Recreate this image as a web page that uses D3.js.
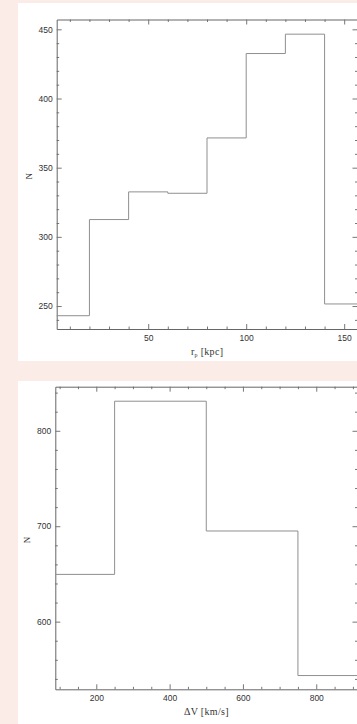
<!DOCTYPE html>
<html>
<head>
<meta charset="utf-8">
<script src="https://cdn.jsdelivr.net/npm/d3@7"></script>
<style>
  body { margin: 0; background: #fbece8; }
  svg { display: block; }
</style>
</head>
<body>
<svg id="chart" width="357" height="724"></svg>
<script>
// 上图: r_p 直方图
const rpEdges = [0, 20, 40, 60, 80, 100, 120, 140, 160];
const rpCounts = [243, 312.5, 332.5, 331.5, 371.5, 432.5, 446.5, 251.5];
const rpMajor = [50, 100, 150];
const rpYMajor = [250, 300, 350, 400, 450];

// 下图: ΔV 直方图
const dvEdges = [0, 250, 500, 750, 1000];
const dvCounts = [649.5, 831, 695, 543.5];
const dvMajor = [200, 400, 600, 800];
const dvYMajor = [600, 700, 800];

const svg = d3.select("#chart");

// 白色卡片
svg.append("rect").attr("x", 18).attr("y", 3).attr("width", 345).attr("height", 358).attr("fill", "#fff");
svg.append("rect").attr("x", 18).attr("y", 381).attr("width", 345).attr("height", 350).attr("fill", "#fff");

function range(a, b, step) {
  const out = [];
  for (let v = a; v <= b + 1e-9; v += step) out.push(+v.toFixed(6));
  return out;
}

function drawPanel(p) {
  const x = d3.scaleLinear().domain(p.xDomain).range([p.left, p.right]);
  const y = d3.scaleLinear().domain(p.yDomain).range([p.bottom, p.top]);
  const g = svg.append("g");

  const xMinor = range(Math.ceil(p.xDomain[0] / p.xMinorStep) * p.xMinorStep, p.xDomain[1], p.xMinorStep)
    .filter((v) => !p.xMajor.includes(v));
  const yMinor = range(Math.ceil(p.yDomain[0] / p.yMinorStep) * p.yMinorStep, p.yDomain[1], p.yMinorStep)
    .filter((v) => !p.yMajor.includes(v));

  const axes = [
    { make: d3.axisBottom, scale: x, pos: `translate(0,${p.bottom})`, major: p.xMajor, minor: xMinor, labels: true, pad: 6 },
    { make: d3.axisTop, scale: x, pos: `translate(0,${p.top})`, major: p.xMajor, minor: xMinor, labels: false, pad: 4 },
    { make: d3.axisLeft, scale: y, pos: `translate(${p.left},0)`, major: p.yMajor, minor: yMinor, labels: true, pad: 4 },
    { make: d3.axisRight, scale: y, pos: `translate(${p.right},0)`, major: p.yMajor, minor: yMinor, labels: false, pad: 4 }
  ];

  axes.forEach((a) => {
    // 次刻度
    const gm = g.append("g").attr("transform", a.pos);
    gm.call(a.make(a.scale).tickValues(a.minor).tickSize(-2.5).tickSizeOuter(0).tickFormat(""));
    gm.select(".domain").remove();

    // 主刻度
    g.append("g").attr("transform", a.pos)
      .call(a.make(a.scale).tickValues(a.major).tickSize(-5).tickSizeOuter(0)
        .tickPadding(a.pad)
        .tickFormat(a.labels ? d3.format("d") : ""));
  });

  g.selectAll("path.domain").attr("stroke", "#666");
  g.selectAll(".tick line").attr("stroke", "#777");
  g.selectAll(".tick text")
    .attr("font-family", "Liberation Sans, Arial, sans-serif")
    .attr("font-size", 8.5)
    .attr("fill", "#333");

  // 直方图阶梯线
  const clipId = "clip" + p.id;
  svg.append("clipPath").attr("id", clipId)
    .append("rect")
    .attr("x", p.left).attr("y", p.top)
    .attr("width", p.right - p.left).attr("height", p.bottom - p.top);

  const pts = p.counts.map((c, i) => [p.edges[i], c]);
  pts.push([p.edges[p.edges.length - 1], p.counts[p.counts.length - 1]]);
  const line = d3.line()
    .x((d) => x(d[0]))
    .y((d) => y(d[1]))
    .curve(d3.curveStepAfter);

  svg.append("path")
    .datum(pts)
    .attr("clip-path", `url(#${clipId})`)
    .attr("d", line)
    .attr("fill", "none")
    .attr("stroke", "#8f8f8f")
    .attr("stroke-width", 1);

  // 坐标轴标题
  svg.append("text")
    .attr("x", (p.left + p.right) / 2)
    .attr("y", p.bottom + 26)
    .attr("text-anchor", "middle")
    .attr("font-family", "Liberation Serif, Times New Roman, serif")
    .attr("font-size", 10)
    .attr("letter-spacing", 0.3)
    .attr("fill", "#333")
    .html(p.xTitle);

  svg.append("text")
    .attr("transform", `translate(${p.left - 25},${(p.top + p.bottom) / 2 + 2}) rotate(-90)`)
    .attr("text-anchor", "middle")
    .attr("font-family", "Liberation Serif, Times New Roman, serif")
    .attr("font-size", 9)
    .attr("fill", "#333")
    .text("N");
}

drawPanel({
  id: 1,
  left: 56.7, right: 357.5, top: 19.5, bottom: 329,
  xDomain: [3.3, 156.8], yDomain: [233.4, 457.1],
  edges: rpEdges, counts: rpCounts,
  xMajor: rpMajor, xMinorStep: 10,
  yMajor: rpYMajor, yMinorStep: 10,
  xTitle: 'r<tspan font-size="6" dy="2">p</tspan><tspan dy="-2"> [kpc]</tspan>'
});

drawPanel({
  id: 2,
  left: 55.3, right: 357.5, top: 386.7, bottom: 689.3,
  xDomain: [88.2, 912.5], yDomain: [529.1, 846.2],
  edges: dvEdges, counts: dvCounts,
  xMajor: dvMajor, xMinorStep: 50,
  yMajor: dvYMajor, yMinorStep: 20,
  xTitle: 'ΔV [km/s]'
});
</script>
</body>
</html>
